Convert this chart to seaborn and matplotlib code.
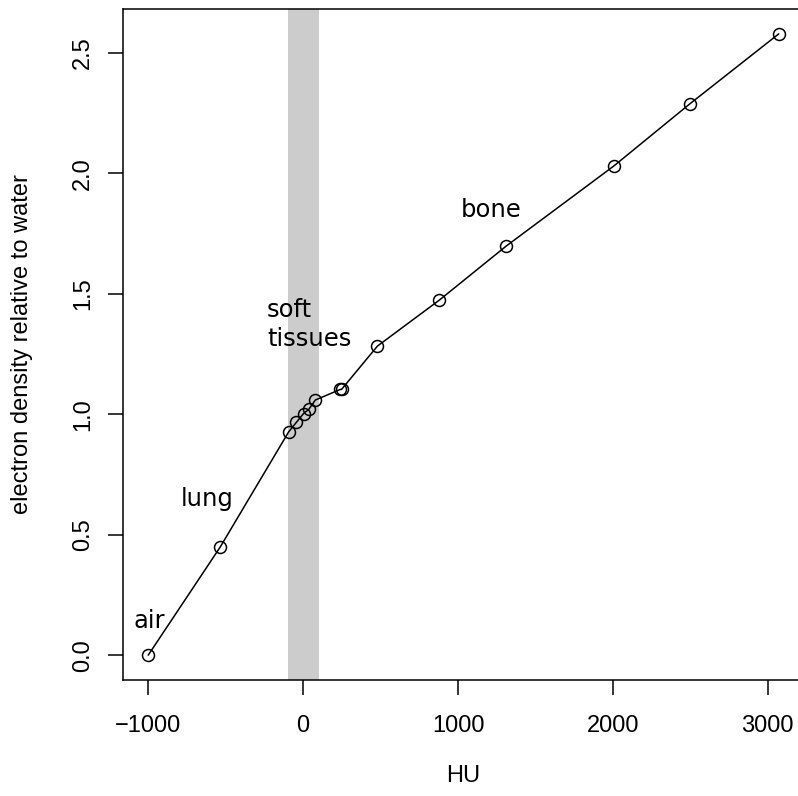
import numpy as np
import pandas as pd
import matplotlib
matplotlib.use("Agg")
import matplotlib.pyplot as plt
import seaborn as sns

# Data
hu = [-1000, -535, -93, -44, 3, 36, 79, 240, 248, 480, 880, 1313, 2005, 2496, 3071]
density = [0.0, 0.449, 0.927, 0.966, 1.003, 1.020, 1.059, 1.103, 1.103, 1.283, 1.474, 1.699, 2.030, 2.288, 2.579]
band = [-100, 100]
x_ticks = [-1000, 0, 1000, 2000, 3000]
y_ticks = [0.0, 0.5, 1.0, 1.5, 2.0, 2.5]
labels = ["air", "lung", "soft", "tissues", "bone"]
label_x = [-1097, -787, -233, -233, 1015]
label_y = [0.112, 0.619, 1.405, 1.283, 1.819]

sns.set_style("white")
plt.rcParams['font.family'] = ['Liberation Sans', 'DejaVu Sans']
plt.rcParams['text.color'] = 'black'
plt.rcParams['axes.labelcolor'] = 'black'
plt.rcParams['xtick.color'] = 'black'
plt.rcParams['ytick.color'] = 'black'

fig = plt.figure(figsize=(7.98, 7.96), dpi=100)
W, H = 798, 796
ax = fig.add_axes([123 / W, (H - 680) / H, 681 / W, 671 / H])

df = pd.DataFrame({"HU": hu, "density": density})
ax.axvspan(band[0], band[1], color="#cccccc", lw=0, zorder=0)
sns.lineplot(data=df, x="HU", y="density", ax=ax, sort=False, color="black",
             lw=1.1, marker="o", markersize=8.6, markerfacecolor="none",
             markeredgecolor="black", markeredgewidth=1.1, zorder=3)

# R-style 4% padding
xr = max(hu) - min(hu)
yr = max(density) - min(density)
ax.set_xlim(min(hu) - 0.04 * xr, max(hu) + 0.04 * xr)
ax.set_ylim(min(density) - 0.04 * yr, max(density) + 0.04 * yr)

ax.set_xticks(x_ticks)
ax.set_xticklabels(["\u22121000", "0", "1000", "2000", "3000"])
ax.set_yticks(y_ticks)
ax.set_yticklabels([f"{v:.1f}" for v in y_ticks], rotation=90, va="center")

ax.tick_params(axis="both", which="both", direction="out", length=11, width=1.1,
               labelsize=17, color="black", labelcolor="black", bottom=True, left=True)
ax.tick_params(axis="x", pad=14)
ax.tick_params(axis="y", pad=10)

for s in ax.spines.values():
    s.set_color("black")
    s.set_linewidth(1.1)

for t, x, y in zip(labels, label_x, label_y):
    ax.text(x, y, t, fontsize=17.5, family="DejaVu Sans", color="black",
            ha="left", va="baseline", zorder=4)

ax.set_xlabel("HU", fontsize=17, color="black")
ax.set_ylabel("electron density relative to water", fontsize=17, color="black")
ax.xaxis.label.set_va("center")
ax.yaxis.label.set_va("center")
ax.xaxis.set_label_coords(0.5, (680 - 776) / 671)
ax.yaxis.set_label_coords((22 - 123) / 681, 0.5)

fig.savefig("out.png", dpi=100)
